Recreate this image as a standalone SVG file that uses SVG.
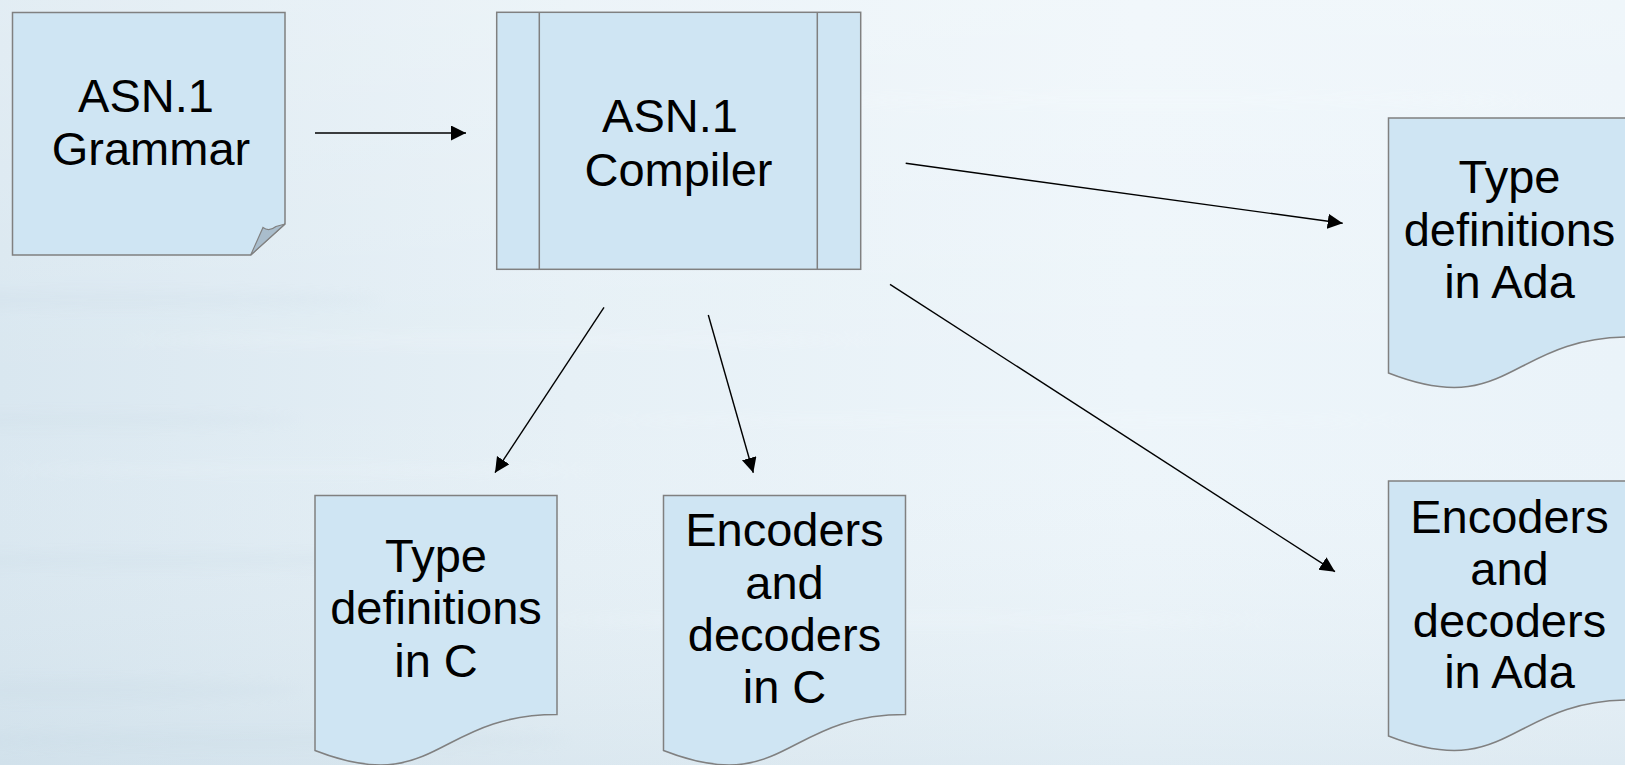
<svg xmlns="http://www.w3.org/2000/svg" width="1625" height="765" viewBox="0 0 1625 765">
  <defs>
    <linearGradient id="bgH" x1="0" y1="0" x2="1" y2="0">
      <stop offset="0" stop-color="#d9e7f0"/>
      <stop offset="0.35" stop-color="#e6f0f6"/>
      <stop offset="0.7" stop-color="#edf5fa"/>
      <stop offset="1" stop-color="#eaf3f9"/>
    </linearGradient>
    <linearGradient id="bgV" x1="0" y1="0" x2="0" y2="1">
      <stop offset="0" stop-color="#ffffff" stop-opacity="0.25"/>
      <stop offset="0.5" stop-color="#ffffff" stop-opacity="0"/>
      <stop offset="1" stop-color="#b9cfdc" stop-opacity="0.25"/>
    </linearGradient>
    <filter id="soft" x="-10%" y="-200%" width="120%" height="500%">
      <feGaussianBlur stdDeviation="6"/>
    </filter>
    <marker id="arrow" markerUnits="userSpaceOnUse" markerWidth="16" markerHeight="16" refX="15" refY="7.5" orient="auto">
      <path d="M0,0 L15,7.5 L0,15 Z" fill="#000"/>
    </marker>
    <style>
      .shape { fill: #cfe5f3; stroke: #808080; stroke-width: 1.5; }
      .fold { fill: #a9bdcc; stroke: #808080; stroke-width: 1.2; }
      .label { font-family: "Liberation Sans", Arial, sans-serif; font-size: 47px; fill: #000; text-anchor: middle; }
      .conn { stroke: #000; stroke-width: 1.4; fill: none; marker-end: url(#arrow); }
      .streak { fill: #ffffff; opacity: 0.12; filter: url(#soft); }
      .dstreak { fill: #b8cedc; opacity: 0.10; filter: url(#soft); }
    </style>
  </defs>

  <g id="background">
    <rect x="0" y="0" width="1625" height="765" fill="url(#bgH)"/>
    <rect x="0" y="0" width="1625" height="765" fill="url(#bgV)"/>
    <ellipse class="dstreak" cx="120" cy="300" rx="260" ry="10"/>
    <ellipse class="dstreak" cx="80" cy="420" rx="220" ry="8"/>
    <ellipse class="dstreak" cx="150" cy="560" rx="300" ry="9"/>
    <ellipse class="dstreak" cx="60" cy="690" rx="240" ry="12"/>
    <ellipse class="dstreak" cx="250" cy="740" rx="320" ry="10"/>
    <ellipse class="streak" cx="500" cy="340" rx="380" ry="6"/>
    <ellipse class="streak" cx="1000" cy="420" rx="420" ry="5"/>
    <ellipse class="streak" cx="1150" cy="100" rx="400" ry="6"/>
    <ellipse class="streak" cx="900" cy="620" rx="380" ry="6"/>
    <ellipse class="streak" cx="300" cy="470" rx="300" ry="5"/>
  </g>

  <g id="connectors">
    <line class="conn" x1="315" y1="133" x2="466" y2="133"/>
    <line class="conn" x1="905.7" y1="163.3" x2="1342.7" y2="223.3"/>
    <line class="conn" x1="890" y1="284.3" x2="1335" y2="571.7"/>
    <line class="conn" x1="604" y1="307.3" x2="495" y2="472.7"/>
    <line class="conn" x1="708.3" y1="315" x2="753.3" y2="472.7"/>
  </g>

  <g id="grammar">
    <path class="shape" d="M12.5,12.5 H285 V224 L250.7,255 H12.5 Z"/>
    <path class="fold" d="M250.7,255 L263,227.5 Q269,232 276,226.5 L285,224 Z"/>
    <text class="label" x="146" y="112">ASN.1</text>
    <text class="label" x="151" y="165">Grammar</text>
  </g>

  <g id="compiler">
    <rect class="shape" x="496.7" y="12.3" width="364" height="257"/>
    <line x1="539.3" y1="12.3" x2="539.3" y2="269.3" stroke="#808080" stroke-width="1.5"/>
    <line x1="817.3" y1="12.3" x2="817.3" y2="269.3" stroke="#808080" stroke-width="1.5"/>
    <text class="label" x="670" y="131.7">ASN.1</text>
    <text class="label" x="678.5" y="186">Compiler</text>
  </g>

  <g id="type-def-ada">
    <path class="shape" d="M1388.5,118 H1630.5 V337 C1509.5,337 1509.5,420.3 1388.5,373 Z"/>
    <text class="label" x="1509.5" y="193">Type</text>
    <text class="label" x="1509.5" y="245.5">definitions</text>
    <text class="label" x="1509.5" y="298">in Ada</text>
  </g>

  <g id="enc-dec-ada">
    <path class="shape" d="M1388.5,481 H1630.5 V700 C1509.5,700 1509.5,783.3 1388.5,736 Z"/>
    <text class="label" x="1509.5" y="533">Encoders</text>
    <text class="label" x="1509.5" y="585">and</text>
    <text class="label" x="1509.5" y="636.5">decoders</text>
    <text class="label" x="1509.5" y="688">in Ada</text>
  </g>

  <g id="type-def-c">
    <path class="shape" d="M315,495.5 H557 V714.5 C436,714.5 436,797.8 315,750.5 Z"/>
    <text class="label" x="436" y="571.7">Type</text>
    <text class="label" x="436" y="624.2">definitions</text>
    <text class="label" x="436" y="676.7">in C</text>
  </g>

  <g id="enc-dec-c">
    <path class="shape" d="M663.5,495.5 H905.5 V714.5 C784.5,714.5 784.5,797.8 663.5,750.5 Z"/>
    <text class="label" x="784.5" y="546">Encoders</text>
    <text class="label" x="784.5" y="598.5">and</text>
    <text class="label" x="784.5" y="650.5">decoders</text>
    <text class="label" x="784.5" y="702.5">in C</text>
  </g>
</svg>
